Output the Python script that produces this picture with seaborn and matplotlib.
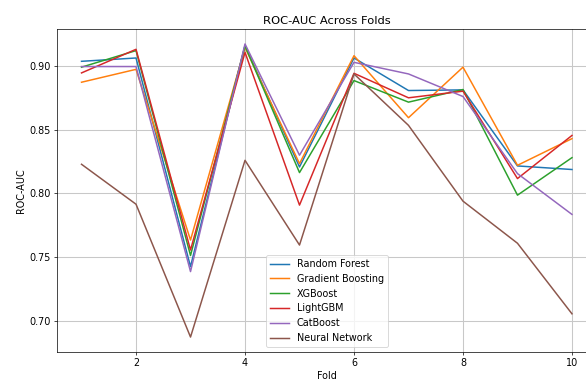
import matplotlib
matplotlib.use("Agg")
import matplotlib.pyplot as plt
import seaborn as sns
import pandas as pd

folds = [1, 2, 3, 4, 5, 6, 7, 8, 9, 10]
random_forest = [0.9036, 0.9062, 0.7427, 0.9160, 0.8208, 0.9062, 0.8807, 0.8812, 0.8216, 0.8188]
gradient_boosting = [0.8872, 0.8973, 0.7635, 0.9145, 0.8234, 0.9080, 0.8594, 0.8990, 0.8221, 0.8430]
xgboost = [0.8990, 0.9120, 0.7514, 0.9156, 0.8164, 0.8885, 0.8716, 0.8815, 0.7987, 0.8281]
lightgbm = [0.8945, 0.9130, 0.7557, 0.9106, 0.7909, 0.8942, 0.8750, 0.8802, 0.8117, 0.8455]
catboost = [0.8995, 0.8995, 0.7388, 0.9172, 0.8300, 0.9028, 0.8937, 0.8760, 0.8156, 0.7836]
neural_network = [0.8229, 0.7916, 0.6875, 0.8260, 0.7596, 0.8937, 0.8534, 0.7940, 0.7610, 0.7057]

models = ["Random Forest", "Gradient Boosting", "XGBoost", "LightGBM", "CatBoost", "Neural Network"]
series = [random_forest, gradient_boosting, xgboost, lightgbm, catboost, neural_network]

plt.rcParams["font.size"] = 10.9
DPI = 63.5
fig = plt.figure(figsize=(586 / DPI, 381 / DPI), dpi=DPI)
ax = fig.add_axes([57 / 586, (381 - 351.7) / 381, 539.5 / 586, 322.4 / 381])

palette = sns.color_palette("tab10", len(models))
for name, vals, col in zip(models, series, palette):
    df = pd.DataFrame({"Fold": folds, "ROC-AUC": vals})
    sns.lineplot(data=df, x="Fold", y="ROC-AUC", ax=ax, label=name, color=col, linewidth=1.7)

ax.set_title("ROC-AUC Across Folds")
ax.set_xlabel("Fold")
ax.set_ylabel("ROC-AUC")
ax.grid(True, color="#c8c8c8", linewidth=1.2)
ax.legend(loc="lower center")

fig.savefig("out.png", dpi=DPI)
